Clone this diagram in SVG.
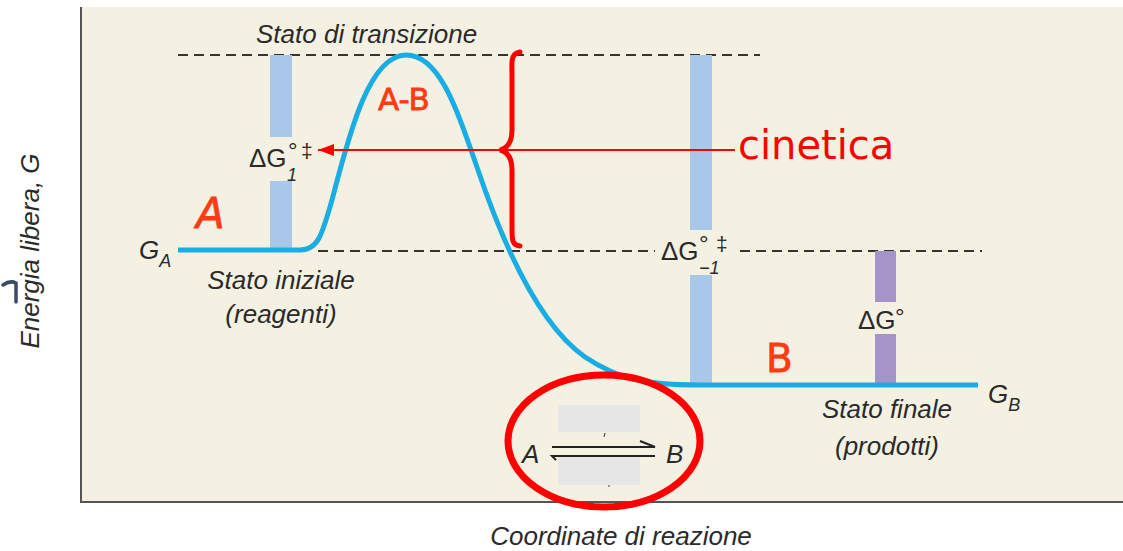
<svg xmlns="http://www.w3.org/2000/svg" width="1123" height="551" viewBox="0 0 1123 551">
<defs>
<style>
.lbl{font-family:"Liberation Sans",Arial,sans-serif;font-style:italic;font-size:26px;fill:#2a2a2a;}
.dg{font-family:"Liberation Sans",Arial,sans-serif;font-size:26px;fill:#2a2a2a;}
.sm{font-size:18px;}
.deg{font-size:24px;}
.dag{font-size:21px;}
.ann{font-family:"DejaVu Sans",sans-serif;fill:#ff3b14;stroke:#ff3b14;stroke-width:0.8;}
.dash{stroke:#333;stroke-width:2;stroke-dasharray:10 6;fill:none;}
.bar{fill:#a9c8e9;}
</style>
<marker id="ah" markerWidth="16" markerHeight="12" refX="16" refY="6" orient="auto" markerUnits="userSpaceOnUse">
<path d="M16,6 L0,0 L0,12 Z" fill="#ff0000"/>
</marker>
</defs>
<rect width="1123" height="551" fill="#ffffff"/>
<rect x="80" y="7" width="1043" height="496" fill="#f4f1e3"/>
<path d="M81,7 L81,502 L1123,502" stroke="#555" stroke-width="2" fill="none"/>

<g id="axis-y">
<text class="lbl" transform="translate(39,251) rotate(-90)" text-anchor="middle" font-size="25">Energia libera, G</text>
<path d="M3,285 Q10,280 16,283 L16,302" stroke="#3b4a66" stroke-width="3.5" fill="none" stroke-linecap="round"/>
</g>
<g id="axis-x"><text class="lbl" x="621" y="545" text-anchor="middle" font-size="28">Coordinate di reazione</text></g>

<g id="connectors">
<line class="dash" x1="178" y1="55" x2="760" y2="55"/>
<line class="dash" x1="318" y1="251" x2="655" y2="251"/>
<line class="dash" x1="740" y1="251" x2="982" y2="251"/>
</g>

<g id="bars">
<rect class="bar" x="270" y="55" width="22" height="82"/>
<rect class="bar" x="270" y="181" width="22" height="69"/>
<rect class="bar" x="690" y="55" width="22" height="175"/>
<rect class="bar" x="690" y="275" width="22" height="110"/>
<rect x="875" y="251" width="21" height="51" fill="#a594c8"/>
<rect x="875" y="334" width="21" height="51" fill="#a594c8"/>
</g>

<g id="curve">
<path d="M178,250 L300,250 C318,250 322,235 332,200 C350,130 370,55 406,55 C440,55 457,110 478,170 C500,235 535,322 585,357 C618,379 645,385 700,385 L978,385" stroke="#1aade4" stroke-width="5" fill="none" stroke-linejoin="round"/>
</g>

<g id="labels">
<text class="lbl" x="256" y="43" font-size="27">Stato di transizione</text>
<text class="lbl" x="281" y="289" text-anchor="middle">Stato iniziale</text>
<text class="lbl" x="281" y="323" text-anchor="middle">(reagenti)</text>
<text class="lbl" x="887" y="418" text-anchor="middle">Stato finale</text>
<text class="lbl" x="887" y="455" text-anchor="middle">(prodotti)</text>
<text class="lbl" x="139" y="259">G<tspan class="sm" font-size="19" dy="8">A</tspan></text>
<text class="lbl" x="988" y="403">G<tspan class="sm" font-size="19" dy="8">B</tspan></text>
</g>

<g id="dg1">
<text class="dg" x="249" y="167">ΔG</text>
<text class="dg deg" x="288" y="159">°</text>
<text class="dg sm" x="287" y="181" font-style="italic">1</text>
<text class="dg dag" x="301" y="158">‡</text>
</g>
<g id="dgm1">
<text class="dg" x="661" y="260">ΔG</text>
<text class="dg deg" x="699" y="252">°</text>
<text class="dg sm" x="699" y="274" font-style="italic">−1</text>
<text class="dg dag" x="716" y="251">‡</text>
</g>
<g id="dg0">
<text class="dg" x="858" y="329">ΔG</text>
<text class="dg deg" x="895" y="325">°</text>
</g>

<g id="reaction">
<rect x="558" y="405" width="82" height="27" fill="#e6e6e6"/>
<rect x="558" y="457" width="82" height="28" fill="#e6e6e6"/>
<text class="lbl" x="522" y="463" font-size="25">A</text>
<text class="lbl" x="666" y="463" font-size="25">B</text>
<path d="M552,447 L655,447 L640,441" stroke="#222" stroke-width="2" fill="none"/>
<path d="M655,456 L552,456 L556,460" stroke="#222" stroke-width="2" fill="none"/>
<line x1="605" y1="433" x2="604" y2="437" stroke="#333" stroke-width="1"/>
<circle cx="609" cy="486" r="0.8" fill="#333"/>
</g>

<g id="annotations">
<text class="ann" x="196" y="228" font-size="42" font-style="italic">A</text>
<text class="ann" x="378" y="110" font-size="31">A-B</text>
<text class="ann" x="766" y="372" font-size="39">B</text>
<text x="738" y="159" font-family="DejaVu Sans,sans-serif" font-size="40" fill="#ff0000">cinetica</text>
<path d="M520,52 C510,54 512,62 512,75 L512,130 C512,142 508,148 500,150 C508,152 512,158 512,170 L512,228 C512,240 512,245 520,246" stroke="#ff0000" stroke-width="5" fill="none" stroke-linecap="round"/>
<line x1="735" y1="150" x2="318" y2="150" stroke="#ff0000" stroke-width="2" marker-end="url(#ah)"/>
<ellipse cx="604" cy="441" rx="96" ry="66" stroke="#ff0000" stroke-width="7" fill="none"/>
</g>
</svg>
